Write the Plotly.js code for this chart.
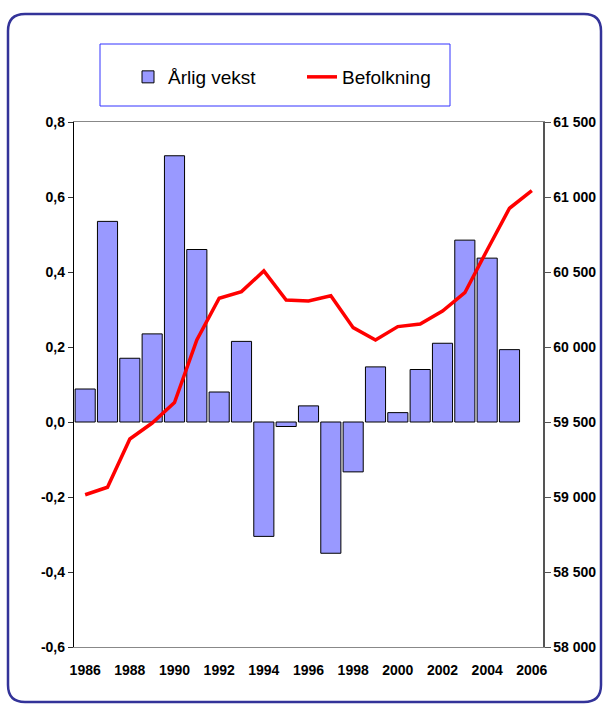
<!DOCTYPE html>
<html>
<head>
<meta charset="utf-8">
<script src="https://cdn.plot.ly/plotly-3.0.1.min.js"></script>
<style>
  html, body { margin: 0; padding: 0; background: #ffffff; }
  #chart { width: 603px; height: 704px; }
</style>
</head>
<body>
<div id="chart"></div>
<script>
// ---- data ----
const barYears = [1986,1987,1988,1989,1990,1991,1992,1993,1994,1995,1996,1997,1998,1999,2000,2001,2002,2003,2004,2005];
const arligVekst = [0.088,0.535,0.170,0.235,0.710,0.460,0.080,0.215,-0.305,-0.012,0.043,-0.350,-0.133,0.147,0.025,0.140,0.210,0.485,0.437,0.193];
const lineYears = [1986,1987,1988,1989,1990,1991,1992,1993,1994,1995,1996,1997,1998,1999,2000,2001,2002,2003,2004,2005,2006];
const befolkning = [59015,59065,59387,59493,59630,60047,60325,60369,60507,60313,60307,60342,60129,60047,60136,60153,60240,60362,60647,60925,61042];
const xTickVals = [1986,1988,1990,1992,1994,1996,1998,2000,2002,2004,2006];
const xTickText = ["1986","1988","1990","1992","1994","1996","1998","2000","2002","2004","2006"];
const leftTickVals = [-0.6,-0.4,-0.2,0,0.2,0.4,0.6,0.8];
const leftTickText = ["-0,6","-0,4","-0,2","0,0","0,2","0,4","0,6","0,8"];
const rightTickVals = [58000,58500,59000,59500,60000,60500,61000,61500];
const rightTickText = ["58 000","58 500","59 000","59 500","60 000","60 500","61 000","61 500"];
const zeroTickVals = [1986.5,1987.5,1988.5,1989.5,1990.5,1991.5,1992.5,1993.5,1994.5,1995.5,1996.5,1997.5,1998.5,1999.5,2000.5,2001.5,2002.5,2003.5,2004.5,2005.5];

// ---- geometry ----
const W = 603, H = 704;
const mL = 74, mR = 60, mT = 122, mB = 57;
const pw = W - mL - mR, ph = H - mT - mB;
const px = v => (v - mL) / pw;
const py = v => (H - mB - v) / ph;

// rounded outer frame
const fx0 = 8, fx1 = 601, fy0 = 14, fy1 = 702, r = 17;
const framePath =
  'M' + px(fx0 + r) + ',' + py(fy0) +
  ' L' + px(fx1 - r) + ',' + py(fy0) +
  ' Q' + px(fx1) + ',' + py(fy0) + ' ' + px(fx1) + ',' + py(fy0 + r) +
  ' L' + px(fx1) + ',' + py(fy1 - r) +
  ' Q' + px(fx1) + ',' + py(fy1) + ' ' + px(fx1 - r) + ',' + py(fy1) +
  ' L' + px(fx0 + r) + ',' + py(fy1) +
  ' Q' + px(fx0) + ',' + py(fy1) + ' ' + px(fx0) + ',' + py(fy1 - r) +
  ' L' + px(fx0) + ',' + py(fy0 + r) +
  ' Q' + px(fx0) + ',' + py(fy0) + ' ' + px(fx0 + r) + ',' + py(fy0) + ' Z';

const tickFont = { family: 'Liberation Sans, Arial, sans-serif', size: 14, color: '#000000', weight: 'bold' };

const traces = [
  {
    type: 'bar', name: 'Årlig vekst', x: barYears, y: arligVekst,
    xaxis: 'x', yaxis: 'y', width: 0.9,
    marker: { color: '#9999ff', line: { color: '#000000', width: 1 } }
  },
  {
    type: 'scatter', mode: 'lines', name: 'Befolkning', x: lineYears, y: befolkning,
    xaxis: 'x', yaxis: 'y2',
    line: { color: '#ff0000', width: 3.5 }
  }
];

const layout = {
  width: W, height: H,
  margin: { l: mL, r: mR, t: mT, b: mB, pad: 0 },
  paper_bgcolor: '#ffffff', plot_bgcolor: '#ffffff',
  font: { family: 'Liberation Sans, Arial, sans-serif', color: '#000000' },
  showlegend: true,
  legend: {
    orientation: 'h', x: px(128), xanchor: 'left', y: py(77), yanchor: 'middle',
    bgcolor: 'rgba(0,0,0,0)', borderwidth: 0,
    font: { family: 'Liberation Sans, Arial, sans-serif', size: 19, color: '#000000' },
    entrywidth: 129, entrywidthmode: 'pixels', itemwidth: 30
  },
  bargap: 0.1,
  xaxis: {
    range: [1985.5, 2006.5], tickmode: 'array', tickvals: xTickVals, ticktext: xTickText,
    showgrid: false, zeroline: false, showline: true, mirror: true, linecolor: '#888888', linewidth: 1,
    ticks: 'outside', ticklen: 10, tickcolor: 'rgba(0,0,0,0)', tickfont: tickFont
  },
  xaxis2: {
    overlaying: 'x', matches: 'x', anchor: 'free', position: 0.6 / 1.4,
    tickmode: 'array', tickvals: zeroTickVals, showticklabels: false,
    showgrid: false, zeroline: false, showline: true, linecolor: '#000000', linewidth: 1.2,
    ticks: 'outside', ticklen: 4, tickcolor: '#333333', tickwidth: 1
  },
  yaxis: {
    range: [-0.6, 0.8], tickmode: 'array', tickvals: leftTickVals, ticktext: leftTickText,
    showgrid: false, zeroline: false, showline: true, linecolor: '#000000', linewidth: 1.2,
    ticks: 'outside', ticklen: 5, tickcolor: '#333333', tickfont: tickFont
  },
  yaxis2: {
    overlaying: 'y', side: 'right', anchor: 'x',
    range: [58000, 61500], tickmode: 'array', tickvals: rightTickVals, ticktext: rightTickText,
    showgrid: false, zeroline: false, showline: true, linecolor: '#555555', linewidth: 1.5,
    ticks: 'outside', ticklen: 6, tickcolor: '#555555', tickfont: tickFont
  },
  shapes: [
    { type: 'path', xref: 'paper', yref: 'paper', path: framePath,
      line: { color: '#333399', width: 2.5 }, fillcolor: 'rgba(0,0,0,0)', layer: 'above' },
    { type: 'rect', xref: 'paper', yref: 'paper',
      x0: px(100), x1: px(450), y0: py(106), y1: py(44),
      line: { color: '#3333ff', width: 1 }, fillcolor: 'rgba(0,0,0,0)', layer: 'above' }
  ]
};

Plotly.newPlot('chart', traces, layout, { displayModeBar: false, staticPlot: true });
</script>
</body>
</html>
